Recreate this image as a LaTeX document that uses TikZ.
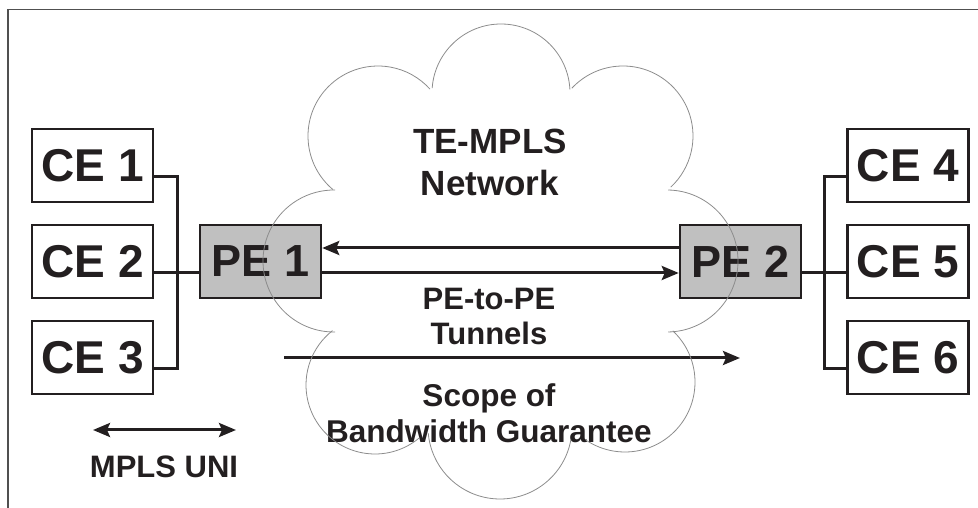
\documentclass[tikz,border=0pt]{standalone}
\usepackage{fontspec}
\setmainfont{Liberation Sans}
\usetikzlibrary{arrows.meta}
\definecolor{ink}{HTML}{231F20}
\definecolor{pegray}{HTML}{C0C0C0}
\definecolor{cloudline}{HTML}{8C8C8C}
\definecolor{framecol}{HTML}{505050}
\begin{document}
\begin{tikzpicture}[x=1pt,y=1pt,
  cebox/.style={draw=ink,line width=2.5pt,fill=white,minimum width=121pt,minimum height=73pt,inner sep=0pt,
    font=\fontsize{46}{50}\selectfont\bfseries,text=ink},
  pebox/.style={cebox,fill=pegray,font=\fontsize{45}{50}\selectfont\bfseries},
  conn/.style={draw=ink,line width=3pt},
  arr/.style={draw=ink,line width=3pt,-{Stealth[length=17pt,width=14pt,inset=3pt]}},
  darr/.style={draw=ink,line width=3pt,{Stealth[length=17pt,width=14pt,inset=3pt]}-{Stealth[length=17pt,width=14pt,inset=3pt]}},
  lbl/.style={align=center,text=ink,inner sep=0pt,anchor=base},
  cloud/.style={draw=cloudline,line width=0.8pt}
]
\useasboundingbox (0,0) rectangle (978,508);
% frame
\draw[framecol,line width=1.5pt] (8,-2) -- (8,498.5) -- (980,498.5);

% nodes
\node[cebox] (ce1) at (92.5,342.5) {CE 1};
\node[cebox] (ce2) at (92.5,246.5) {CE 2};
\node[cebox] (ce3) at (92.5,150.5) {CE 3};
\node[pebox] (pe1) at (260.5,246.5) {PE 1};
\node[pebox] (pe2) at (740.5,246.5) {PE 2};
\node[cebox] (ce4) at (908,342.5) {CE 4};
\node[cebox] (ce5) at (908,246.5) {CE 5};
\node[cebox] (ce6) at (908,150.5) {CE 6};

% connectors
\draw[conn] ([yshift=-11.5pt]ce1.east) -- ++(23,0) |- ([yshift=-11.5pt]ce3.east);
\draw[conn] ([yshift=-11.5pt]ce2.east) -- ([yshift=-11.5pt]pe1.west);
\draw[conn] ([yshift=-11.5pt]ce4.west) -- ++(-22,0) |- ([yshift=-11.5pt]ce6.west);
\draw[conn] ([yshift=-11.5pt]pe2.east) -- ([yshift=-11.5pt]ce5.west);

% tunnels
\draw[arr] ([yshift=13.5pt]pe2.west) -- ([yshift=13.5pt]pe1.east);
\draw[arr] ([yshift=-11.5pt]pe1.east) -- ([yshift=-11.5pt]pe2.west);

\coordinate (sg1) at (284,150);
\coordinate (sg2) at (740,150);
\draw[arr] (sg1) -- (sg2);

\coordinate (uni1) at (93,78);
\coordinate (uni2) at (236,78);
\draw[darr] (uni1) -- (uni2);

% labels (anchor base = baseline of last line)
\node[lbl,font=\fontsize{35}{42}\selectfont\bfseries] (net) at (490,312) {TE-MPLS\\Network};
\node[lbl,font=\fontsize{31}{35}\selectfont\bfseries] (tun) at (489,163) {PE-to-PE\\Tunnels};
\node[lbl,font=\fontsize{31.5}{36}\selectfont\bfseries] (scope) at (489,65) {Scope of\\Bandwidth Guarantee};
\node[lbl,font=\fontsize{31}{35}\selectfont\bfseries] (uni) at (164,30) {MPLS UNI};

% cloud outline
\draw[cloud] (501,415) ++(176:69) arc[start angle=176,end angle=3,radius=69];
\draw[cloud] (623,372) ++(137:70) arc[start angle=137,end angle=-47,radius=70];
\draw[cloud] (667,247) ++(89:71) arc[start angle=89,end angle=-89,radius=71];
\draw[cloud] (625,126) ++(47:70) arc[start angle=47,end angle=-124,radius=70];
\draw[cloud] (500,81) ++(-10:72) arc[start angle=-10,end angle=-175,radius=72];
\draw[cloud] (375,123) ++(-50:69) arc[start angle=-50,end angle=-232,radius=69];
\draw[cloud] (334,247) ++(-89:71) arc[start angle=-89,end angle=-271,radius=71];
\draw[cloud] (378,372) ++(230:70) arc[start angle=230,end angle=42,radius=70];
\end{tikzpicture}
\end{document}
